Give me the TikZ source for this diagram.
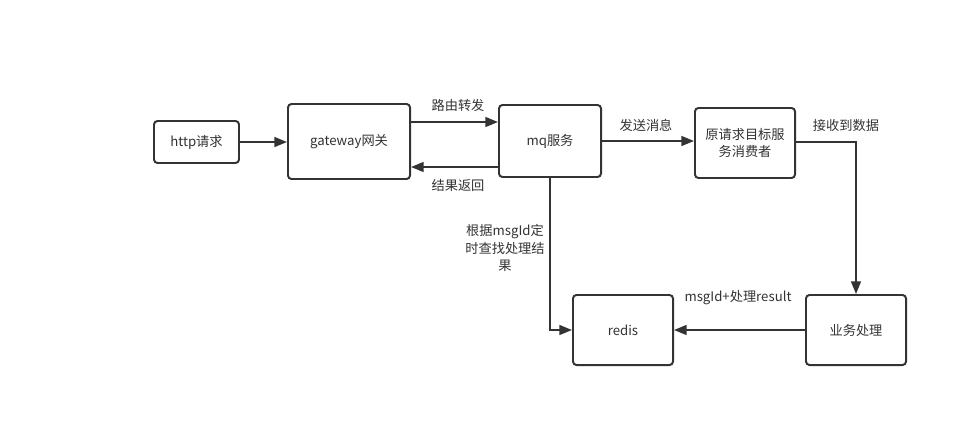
\documentclass[tikz,border=0pt]{standalone}
\usepackage{fontspec}
\setmainfont{Noto Sans CJK SC}
\usetikzlibrary{arrows.meta}
\definecolor{inkgray}{HTML}{333333}
\tikzset{
  box/.style={draw=inkgray, line width=1.4pt, rounded corners=2.5pt, fill=white,
    text=inkgray, align=center, inner sep=0pt},
  flow/.style={draw=inkgray, line width=1.4pt, -{Triangle[length=9pt,width=7pt]}},
  tag/.style={text=inkgray, align=center, inner sep=1pt}
}
\begin{document}
\begin{tikzpicture}[x=0.025cm, y=-0.025cm]
                \useasboundingbox (0,0) rectangle (972,428);
                {\fontsize{9.4}{12.5}\selectfont

                % Drawing the boxes
                \node [box, minimum width=2.125cm, minimum height=1.05cm] (http) at (196.5,142) {http请求};
                \node [box, minimum width=3.05cm, minimum height=1.875cm] (gw) at (349,141.5) {gateway网关};
                \node [box, minimum width=2.55cm, minimum height=1.8cm] (mq) at (550,141) {mq服务};
                \node [box, minimum width=2.5cm, minimum height=1.75cm] (consumer) at (745,143) {原请求目标服\\务消费者};
                \node [box, minimum width=2.5cm, minimum height=1.75cm] (redis) at (623,330) {redis};
                \node [box, minimum width=2.5cm, minimum height=1.75cm] (biz) at (856,330) {业务处理};

                % Drawing request path
                \draw [flow] (http.east) -- (gw.west |- http.east);
                \draw [flow] (gw.east |- 0,122) -- (mq.west |- 0,122);
                \draw [flow] (mq.west |- 0,167) -- (gw.east |- 0,167);
                \draw [flow] (mq.east) -- (consumer.west |- mq.east);

                % Drawing consumer to business
                \draw [flow] (consumer.east |- 0,142) -| (biz.north);
                \draw [flow] (biz.west) -- (redis.east);

                % Drawing polling line
                \draw [flow] (mq.south) |- (redis.west);

                % Marking labels
                \node [tag] (route) at (458,105) {路由转发};
                \node [tag] (back) at (458,185) {结果返回};
                \node [tag] (send) at (646,125) {发送消息};
                \node [tag] (recv) at (846,125) {接收到数据};
                \node [tag] (poll) at (505,248) {根据msgId定\\时查找处理结\\果};
                \node [tag] (result) at (738,298) {msgId+处理result};
                }
\end{tikzpicture}
\end{document}
